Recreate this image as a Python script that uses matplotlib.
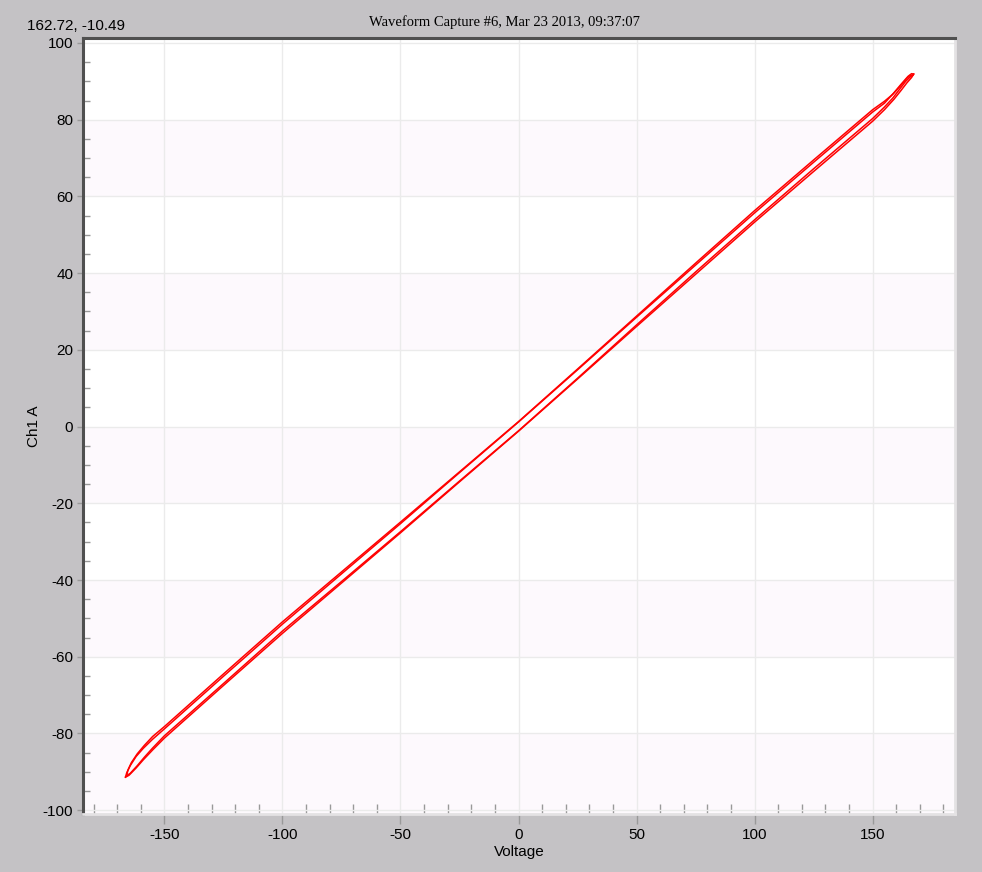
import numpy as np
import matplotlib
matplotlib.use('Agg')
import matplotlib.pyplot as plt
from matplotlib.ticker import MultipleLocator

plt.rcParams['font.family'] = ['Liberation Sans', 'DejaVu Sans']
plt.rcParams['axes.unicode_minus'] = False

# waveform capture: two cycles, each split into rising / falling branch
v_rise1 = [-166.5, -165.0, -162.0, -159.0, -155.0, -150.0, -125.0, -100.0, -75.0, -50.0, -25.0, 0.0,
           25.0, 50.0, 75.0, 100.0, 125.0, 150.0, 155.0, 159.0, 162.0, 164.5, 166.5, 167.4]
i_rise1 = [-91.4, -90.9, -89.0, -86.9, -84.3, -81.2, -67.5, -53.9, -40.8, -27.7, -14.4, -1.2,
           12.4, 26.1, 39.7, 53.3, 66.5, 79.6, 82.6, 85.3, 87.6, 89.6, 91.0, 91.9]
v_fall1 = [167.4, 166.5, 165.0, 162.0, 159.0, 155.0, 150.0, 125.0, 100.0, 75.0, 50.0, 25.0, 0.0,
           -25.0, -50.0, -75.0, -100.0, -125.0, -150.0, -155.0, -159.0, -162.0, -164.5, -166.0, -166.5]
i_fall1 = [91.9, 92.0, 91.3, 89.2, 87.0, 84.3, 82.0, 68.9, 55.7, 42.1, 28.5, 14.8, 1.2,
           -12.0, -25.3, -38.4, -51.5, -65.1, -78.8, -81.5, -83.9, -86.0, -88.4, -90.3, -91.4]

v_rise2 = [-166.0, -164.5, -161.5, -158.5, -155.0, -150.0, -125.0, -100.0, -75.0, -50.0, -25.0, 0.0,
           25.0, 50.0, 75.0, 100.0, 125.0, 150.0, 155.0, 158.5, 161.5, 164.0, 166.0, 167.0]
i_rise2 = [-91.0, -90.4, -88.4, -86.2, -83.8, -80.6, -67.0, -53.3, -40.4, -27.4, -14.2, -1.1,
           12.6, 26.5, 40.3, 53.9, 67.2, 80.3, 83.3, 85.6, 88.0, 90.0, 91.2, 91.6]
v_fall2 = [167.0, 166.0, 164.5, 161.5, 158.5, 155.0, 150.0, 125.0, 100.0, 75.0, 50.0, 25.0, 0.0,
           -25.0, -50.0, -75.0, -100.0, -125.0, -150.0, -155.0, -158.5, -161.5, -164.0, -165.5, -166.0]
i_fall2 = [91.6, 91.6, 90.8, 88.6, 86.6, 84.8, 82.6, 69.5, 56.3, 42.6, 28.8, 15.0, 1.3,
           -11.8, -24.9, -37.9, -50.9, -64.5, -78.2, -80.8, -83.1, -85.3, -87.6, -89.6, -91.0]

title = 'Waveform Capture #6, Mar 23 2013, 09:37:07'
cursor_text = '162.72, -10.49'

bg = '#c4c2c5'
fig = plt.figure(figsize=(9.82, 8.72), dpi=100, facecolor=bg)
ax = fig.add_axes([83/982, 1 - 814/872, (955 - 83)/982, (814 - 38)/872])
ax.set_facecolor('white')

ax.set_xlim(-184.5, 184.9)
ax.set_ylim(-101.0, 101.3)

# alternating bands between horizontal grid lines
for lo in [60, 20, -20, -60, -101]:
    ax.axhspan(lo, lo + 20 if lo > -100 else -80, color='#fdf9fd', zorder=0, lw=0)

ax.xaxis.set_major_locator(MultipleLocator(50))
ax.xaxis.set_minor_locator(MultipleLocator(10))
ax.yaxis.set_major_locator(MultipleLocator(20))
ax.yaxis.set_minor_locator(MultipleLocator(5))
ax.grid(True, which='major', color='#ebebeb', lw=1.0, zorder=1)
ax.set_axisbelow(True)

ax.tick_params(which='major', direction='out', colors='#999999', labelcolor='black', labelsize=11)
ax.tick_params(axis='x', which='major', length=7, width=1, pad=3)
ax.tick_params(axis='y', which='major', length=4, width=1, pad=3)
ax.tick_params(axis='x', which='minor', direction='in', length=7, width=1, colors='#999999')
ax.tick_params(axis='y', which='minor', direction='in', length=5, width=1, colors='#999999')

for s in ['left', 'top']:
    ax.spines[s].set_color('#505050')
    ax.spines[s].set_linewidth(2.2)
for s in ['right', 'bottom']:
    ax.spines[s].set_color('#e4e2e4')
    ax.spines[s].set_linewidth(2.0)

for v, i in [(v_rise1, i_rise1), (v_fall1, i_fall1), (v_rise2, i_rise2), (v_fall2, i_fall2)]:
    ax.plot(v, i, color='#ff0000', lw=1.1, zorder=3)

ax.set_xlabel('Voltage', fontsize=11, labelpad=2)
ax.set_ylabel('Ch1 A', fontsize=11)
ax.yaxis.set_label_coords((41 - 83) / 872, 0.5)

fig.text(504/982, 1 - 22/872, title, ha='center', va='center', fontsize=10.5,
         family=['Liberation Serif', 'DejaVu Serif'])
fig.text(27/982, 1 - 26/872, cursor_text, ha='left', va='center', fontsize=11)

fig.savefig('out.png', dpi=100, facecolor=bg)
